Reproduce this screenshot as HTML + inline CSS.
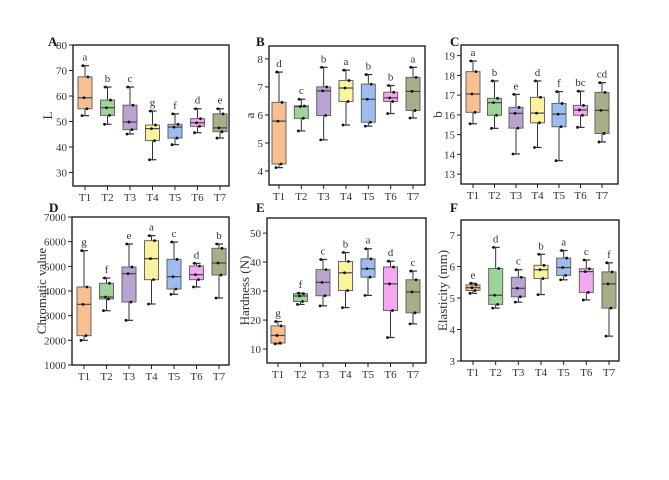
<!DOCTYPE html>
<html><head><meta charset="utf-8">
<style>
html,body{margin:0;padding:0;background:#fff;}
svg{display:block;font-family:"Liberation Serif",serif;}
</style></head>
<body>
<svg id="chart" width="669" height="480" viewBox="0 0 669 480" xmlns="http://www.w3.org/2000/svg"></svg>
<script>
const categories = ["T1","T2","T3","T4","T5","T6","T7"];
const colors = ["#f8c08f","#9cd49a","#b9a3d0","#fbf39e","#9dbcf0","#f5a8f2","#a9ad88"];

// [min, q1, median, q3, max] per category
const statsA = [[52.3,55,59.3,67.5,71.9],[48.9,52.4,55.4,58.4,63.5],[45.1,46.8,49.8,56.4,63.5],[35,42.5,47.2,48.6,54.1],[40.9,43.5,47.8,48.9,53],[45.6,48.1,49.5,51.1,55],[43.5,46,47.5,53,55]];
const lettersA = ["a","b","c","g","f","d","e"];
const statsB = [[4.12,4.25,5.78,6.45,7.53],[5.43,5.88,6.3,6.32,6.56],[5.11,5.98,6.86,7.0,7.7],[5.64,6.48,6.96,7.23,7.6],[5.6,5.74,6.56,7.1,7.44],[6.05,6.48,6.61,6.81,7.05],[5.89,6.16,6.84,7.34,7.7]];
const lettersB = ["d","c","b","a","b","b","a"];
const statsC = [[15.55,16.13,17.06,18.19,18.73],[15.32,15.98,16.62,16.84,17.72],[14.02,15.33,16.08,16.38,17.04],[14.35,15.6,16.09,16.89,17.72],[13.68,15.4,16.04,16.58,17.18],[15.37,15.98,16.25,16.48,17.2],[14.63,15.06,16.23,17.14,17.63]];
const lettersC = ["a","b","e","d","f","bc","cd"];
const statsD = [[2000,2189,3459,4162,5635],[3203,3676,3757,4311,4527],[2811,3554,4703,4973,5905],[3473,4459,5311,6040,6243],[3865,4081,4581,5284,5986],[4162,4459,4662,5014,5122],[3716,4649,5135,5730,5905]];
const lettersD = ["g","f","e","a","c","d","b"];
const statsE = [[11.8,12.1,14.7,18,19.5],[25.4,26.4,28.3,29.1,29.3],[24.9,28.4,33,37.4,40.9],[24.3,30.2,36.3,40.2,43.3],[28.5,34.8,37.7,41.1,44.6],[14,23.3,32.5,38.3,40.3],[18.7,22.5,29.7,33.9,36.9]];
const lettersE = ["g","f","c","b","a","d","c"];
const statsF = [[5.15,5.24,5.33,5.42,5.47],[4.68,4.8,5.09,5.94,6.61],[4.87,5.04,5.31,5.66,5.9],[5.11,5.62,5.9,6.04,6.39],[5.58,5.72,5.97,6.27,6.51],[4.94,5.18,5.84,5.93,6.21],[3.79,4.68,5.45,5.83,6.12]];
const lettersF = ["e","d","c","b","a","c","f"];

const ticksA = [30,40,50,60,70,80];
const ticksB = [4,5,6,7,8];
const ticksC = [13,14,15,16,17,18,19];
const ticksD = [1000,2000,3000,4000,5000,6000,7000];
const ticksE = [10,20,30,40,50];
const ticksF = [3,4,5,6,7];

const panels = [
 {id:"A",title:"L",x0:73,x1:229,y0:45,y1:186,ymin:24.7,ymax:80,cx0:85,cx1:220,stats:statsA,letters:lettersA,ticks:ticksA,lx:48,ly:46,tx:49},
 {id:"B",title:"a",x0:269,x1:425,y0:46,y1:185,ymin:3.5,ymax:8.46,cx0:279,cx1:413,stats:statsB,letters:lettersB,ticks:ticksB,lx:256,ly:46,tx:251},
 {id:"C",title:"b",x0:461,x1:618,y0:45,y1:184,ymin:12.5,ymax:19.54,cx0:473,cx1:602,stats:statsC,letters:lettersC,ticks:ticksC,lx:450,ly:46,tx:439},
 {id:"D",title:"Chromatic value",x0:72,x1:229,y0:217,y1:365,ymin:1000,ymax:7000,cx0:84,cx1:219,stats:statsD,letters:lettersD,ticks:ticksD,lx:49,ly:212,tx:43},
 {id:"E",title:"Hardness (N)",x0:267,x1:426,y0:218,y1:363,ymin:5.2,ymax:55.2,cx0:278,cx1:413,stats:statsE,letters:lettersE,ticks:ticksE,lx:256,ly:212,tx:246},
 {id:"F",title:"Elasticity (mm)",x0:461,x1:619,y0:220,y1:361,ymin:3,ymax:7.48,cx0:473,cx1:609,stats:statsF,letters:lettersF,ticks:ticksF,lx:450,ly:212,tx:444}
];
const NS="http://www.w3.org/2000/svg";
const svg=document.getElementById("chart");
function mk(tag,attrs,parent,text){const e=document.createElementNS(NS,tag);for(const k in attrs)e.setAttribute(k,attrs[k]);if(text!==undefined)e.textContent=text;(parent||svg).appendChild(e);return e;}
const jit=[-3,2,-1,3,-2];
panels.forEach(p=>{
  const g=mk("g",{});
  
  
  const ys=v=>p.y1-(v-p.ymin)/(p.ymax-p.ymin)*(p.y1-p.y0);
  const xs=i=>p.cx0+i*(p.cx1-p.cx0)/(categories.length-1);
  const pl=mk("text",{x:p.lx,y:p.ly,"font-size":13,"font-weight":"bold",fill:"#111"},g,p.id);
  
  
  p.ticks.forEach(t=>{
    const y=ys(t);
    mk("line",{x1:p.x0-4,x2:p.x0,y1:y,y2:y,stroke:"#222","stroke-width":1},g);
    const tl=mk("text",{x:p.x0-6,y:y+4,"font-size":11,"text-anchor":"end",fill:"#333"},g,String(t));
    
    
  });
  const yt=mk("text",{x:p.tx,y:(p.y0+p.y1)/2,"font-size":13,"text-anchor":"middle",fill:"#333",transform:`rotate(-90 ${p.tx} ${(p.y0+p.y1)/2})`,"dominant-baseline":"middle"},g,p.title);
  
  
  p.stats.forEach((s,i)=>{
    const x=xs(i),w=14;
    const bg=mk("g",{},g);
    
    
    mk("line",{x1:x,x2:x,y1:ys(s[0]),y2:ys(s[4]),stroke:"#333","stroke-width":1},bg);
    mk("line",{x1:x-4,x2:x+4,y1:ys(s[0]),y2:ys(s[0]),stroke:"#333","stroke-width":1.2},bg);
    mk("line",{x1:x-4,x2:x+4,y1:ys(s[4]),y2:ys(s[4]),stroke:"#333","stroke-width":1.2},bg);
    mk("rect",{x:x-w/2,y:ys(s[3]),width:w,height:Math.max(1,ys(s[1])-ys(s[3])),fill:colors[i],stroke:"#666","stroke-width":1},bg);
    mk("line",{x1:x-w/2,x2:x+w/2,y1:ys(s[2]),y2:ys(s[2]),stroke:"#444","stroke-width":1.2},bg);
    s.forEach((v,k)=>mk("circle",{cx:x+jit[k],cy:ys(v),r:1.4,fill:"#111"},bg));
    const lt=mk("text",{x:x,y:ys(s[4])-5,"font-size":11,"text-anchor":"middle",fill:"#333"},g,p.letters[i]);
    
    
    mk("line",{x1:x,x2:x,y1:p.y1,y2:p.y1+4,stroke:"#222","stroke-width":1},g);
    const xl=mk("text",{x:x,y:p.y1+15,"font-size":11,"text-anchor":"middle",fill:"#333"},g,categories[i]);
    
    
  });
  const fr=mk("rect",{x:p.x0,y:p.y0,width:p.x1-p.x0,height:p.y1-p.y0,fill:"none",stroke:"#111","stroke-width":1.3},g);
  
  
});
</script>
</body></html>
